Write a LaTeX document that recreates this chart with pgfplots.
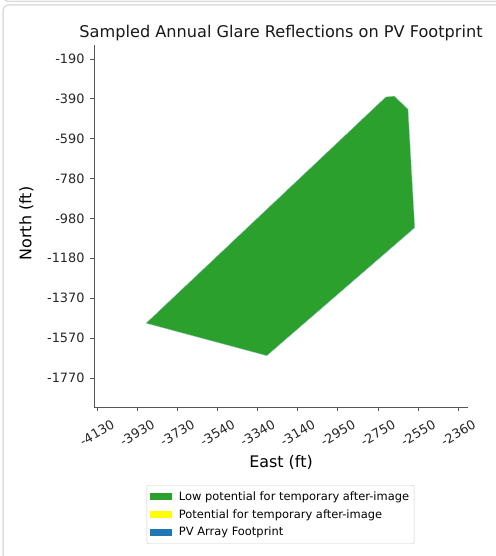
\documentclass[border=0pt]{standalone}
\usepackage{fontspec}
\setmainfont{DejaVu Sans}
\usepackage{pgfplots}
\pgfplotsset{compat=1.18}
\definecolor{mgreen}{HTML}{2CA02C}
\definecolor{myellow}{HTML}{FFFF00}
\definecolor{mblue}{HTML}{1F77B4}
\definecolor{spine}{HTML}{555555}
\definecolor{framec}{HTML}{DDDDDD}
\pgfplotsset{my patch/.style={draw=none, legend image code/.code={\fill[sharp corners] (0bp,-3.5bp) rectangle (22bp,3.5bp);}}}
\begin{document}
\begin{tikzpicture}[x=1bp,y=1bp]
\useasboundingbox (0,0) rectangle (496,556);
\clip (0,0) rectangle (496,556);
\draw[framec, line width=1.5bp, rounded corners=6bp] (3,-20) -- (3,551) -- (520,551);
\draw[framec, line width=1.5bp, rounded corners=6bp] (3,580) -- (3,554.5) -- (520,554.5);
\begin{axis}[
  at={(94bp,149bp)}, anchor=south west, scale only axis,
  width=374bp, height=362bp,
  xmin=-4145, xmax=-2312, ymin=-1914, ymax=-121,
  axis lines=left, axis line style={spine, line width=0.8bp, -},
  tick align=outside, major tick length=4bp,
  tick style={spine, line width=0.8bp},
  xtick={-4130,-3933.33,-3736.67,-3540,-3343.33,-3146.67,-2950,-2753.33,-2556.67,-2360},
  xticklabels={-4130,-3930,-3730,-3540,-3340,-3140,-2950,-2750,-2550,-2360},
  ytick={-190,-387.5,-585,-782.5,-980,-1177.5,-1375,-1572.5,-1770},
  yticklabels={-190,-390,-590,-780,-980,-1180,-1370,-1570,-1770},
  tick label style={font=\fontsize{12.9}{15}\selectfont, text=black!85},
  xticklabel style={yshift=-22bp, rotate=30, anchor=center},
  yticklabel style={anchor=east, xshift=-2bp},
  title={Sampled Annual Glare Reflections on PV Footprint},
  title style={font=\fontsize{16.2}{19}\selectfont, at={(0.5,1)}, anchor=base, yshift=2bp, inner sep=0pt, text=black!90},
  xlabel={East (ft)},
  xlabel style={at={(axis description cs:0.5,-0.168)}, anchor=base, font=\fontsize{16}{19}\selectfont, inner sep=0pt},
  ylabel={North (ft)},
  ylabel style={at={(axis description cs:-0.1805,0.507)}, anchor=center, font=\fontsize{16}{19}\selectfont, inner sep=0pt},
  legend cell align=left,
  legend style={at={(0.4987,-0.2155)}, anchor=north, draw=black!20, rounded corners=2bp,
    font=\fontsize{11.5}{13}\selectfont, inner xsep=3bp, inner ysep=4.5bp,
    row sep=3.5bp, column sep=5bp},
]
\addplot[fill=mgreen, draw=mblue!40, line width=0.3bp, forget plot] coordinates {
(-3890,-1499) (-3298,-1660) (-2573,-1026) (-2606,-439.5) (-2673,-374) (-2715,-378.5)} -- cycle;
\addlegendimage{my patch, fill=mgreen}
\addlegendentry{Low potential for temporary after-image}
\addlegendimage{my patch, fill=myellow}
\addlegendentry{Potential for temporary after-image}
\addlegendimage{my patch, fill=mblue}
\addlegendentry{PV Array Footprint}
\end{axis}
\end{tikzpicture}
\end{document}
